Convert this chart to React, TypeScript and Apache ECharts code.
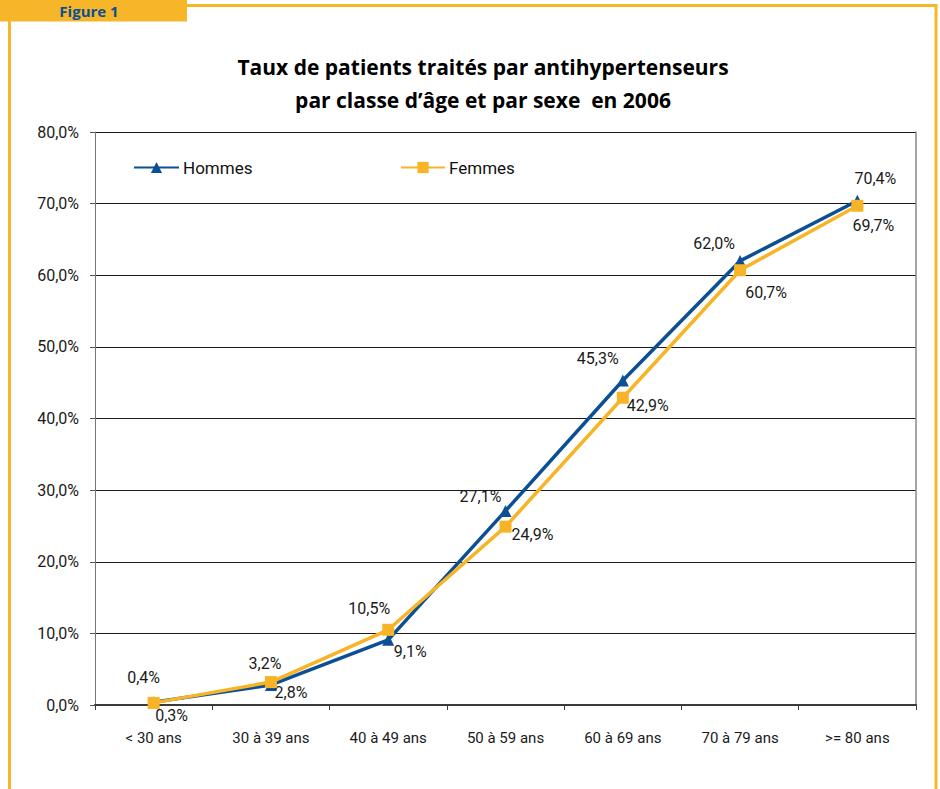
import React, { useEffect, useRef } from "react";
import * as echarts from "echarts";

const categories = ["< 30 ans", "30 à 39 ans", "40 à 49 ans", "50 à 59 ans", "60 à 69 ans", "70 à 79 ans", ">= 80 ans"];
const hommes = [0.4, 2.8, 9.1, 27.1, 45.3, 62.0, 70.4];
const femmes = [0.3, 3.2, 10.5, 24.9, 42.9, 60.7, 69.7];
const yMin = 0;
const yMax = 80;
const yInterval = 10;

// label placement offsets (style, not data)
const hommesLabelOffsets = [[-10, -25], [20, 8], [22, 12], [-25, -14], [-25, -22], [-26, -17], [18, -22]];
const femmesLabelOffsets = [[18, 13], [-6, -19], [-19, -21], [27, 8], [25, 8], [26, 22], [16, 20]];

const BLUE = "#0B4F94";
const YELLOW = "#F6B426";
const FRAME = "#F7B52A";
const FONT = "Roboto, 'Liberation Sans', sans-serif";

const fmt = (v: number) => v.toFixed(1).replace(".", ",") + "%";

export default function App() {
  const ref = useRef<HTMLDivElement>(null);
  useEffect(() => {
    if (!ref.current) return;
    const chart = echarts.init(ref.current, undefined, { renderer: "svg" });
    const labelBase = {
      show: true,
      position: "inside",
      fontFamily: FONT,
      fontSize: 16,
      color: "#1a1a1a",
      formatter: (p: any) => fmt(p.value),
    };
    const legendText = { fontFamily: FONT, fontSize: 17, color: "#111", padding: [0, 0, 0, -1] };
    chart.setOption({
      animation: false,
      backgroundColor: "#ffffff",
      title: {
        text: "Taux de patients traités par antihypertenseurs\npar classe d’âge et par sexe  en 2006",
        left: 483,
        textAlign: "center",
        top: 50,
        padding: 0,
        textStyle: {
          fontFamily: "'Open Sans', sans-serif",
          fontWeight: "bold",
          fontSize: 21,
          lineHeight: 33,
          color: "#000",
        },
      },
      legend: [
        {
          data: ["Hommes"],
          left: 133,
          top: 159,
          padding: 0,
          itemWidth: 45,
          itemHeight: 14,
          itemGap: 6,
          textStyle: legendText,
        },
        {
          data: ["Femmes"],
          left: 400,
          top: 159,
          padding: 0,
          itemWidth: 44,
          itemHeight: 14,
          itemGap: 6,
          textStyle: legendText,
        },
      ],
      grid: { left: 95, right: 24, top: 132, bottom: 84, containLabel: false },
      xAxis: {
        type: "category",
        data: categories,
        boundaryGap: true,
        axisLine: { show: true, lineStyle: { color: "#3a3a3a", width: 2 } },
        axisTick: { show: true, interval: 0, length: 5, lineStyle: { color: "#3a3a3a", width: 1 } },
        axisLabel: { interval: 0, margin: 25, fontFamily: FONT, fontSize: 15, color: "#1a1a1a" },
        splitLine: { show: false },
      },
      yAxis: [
        {
          type: "value",
          min: yMin,
          max: yMax,
          interval: yInterval,
          axisLine: { show: true, lineStyle: { color: "#777", width: 1 } },
          axisTick: { show: true, length: 5, lineStyle: { color: "#555" } },
          axisLabel: { margin: 16, fontFamily: FONT, fontSize: 16, color: "#1a1a1a", formatter: (v: number) => fmt(v) },
          splitLine: { show: true, lineStyle: { color: "#1a1a1a", width: 1 } },
        },
        {
          type: "value",
          position: "right",
          min: yMin,
          max: yMax,
          interval: yInterval,
          axisLine: { show: true, lineStyle: { color: "#888", width: 1.5 } },
          axisTick: { show: false },
          axisLabel: { show: false },
          splitLine: { show: false },
        },
      ],
      series: [
        {
          name: "Hommes",
          type: "line",
          yAxisIndex: 0,
          data: hommes.map((v, i) => ({ value: v, label: { offset: hommesLabelOffsets[i] } })),
          symbol: "triangle",
          symbolSize: 12,
          showAllSymbol: true,
          lineStyle: { color: BLUE, width: 3.5 },
          itemStyle: { color: BLUE },
          label: labelBase,
          z: 3,
        },
        {
          name: "Femmes",
          type: "line",
          yAxisIndex: 0,
          data: femmes.map((v, i) => ({ value: v, label: { offset: femmesLabelOffsets[i] } })),
          symbol: "rect",
          symbolSize: 12,
          showAllSymbol: true,
          lineStyle: { color: YELLOW, width: 3.5 },
          itemStyle: { color: YELLOW },
          label: labelBase,
          z: 4,
        },
      ],
      graphic: [
        {
          type: "polyline",
          shape: { points: [[187, 5.5], [936, 5.5], [936, 800]] },
          style: { stroke: FRAME, lineWidth: 3, fill: "none" },
          silent: true,
        },
        {
          type: "line",
          shape: { x1: 9.5, y1: 20, x2: 9.5, y2: 800 },
          style: { stroke: FRAME, lineWidth: 3 },
          silent: true,
        },
        {
          type: "rect",
          shape: { x: 0, y: 0, width: 187, height: 21.5 },
          style: { fill: FRAME },
          silent: true,
        },
        {
          type: "text",
          x: 89,
          y: 11,
          style: {
            text: "Figure 1",
            fill: BLUE,
            font: "bold 15px 'Open Sans', sans-serif",
            textAlign: "center",
            textVerticalAlign: "middle",
          },
          silent: true,
        },
      ],
    });
    return () => chart.dispose();
  }, []);
  return (
    <div
      ref={ref}
      style={{ position: "fixed", left: 0, top: 0, width: 940, height: 789, background: "#fff" }}
    />
  );
}
